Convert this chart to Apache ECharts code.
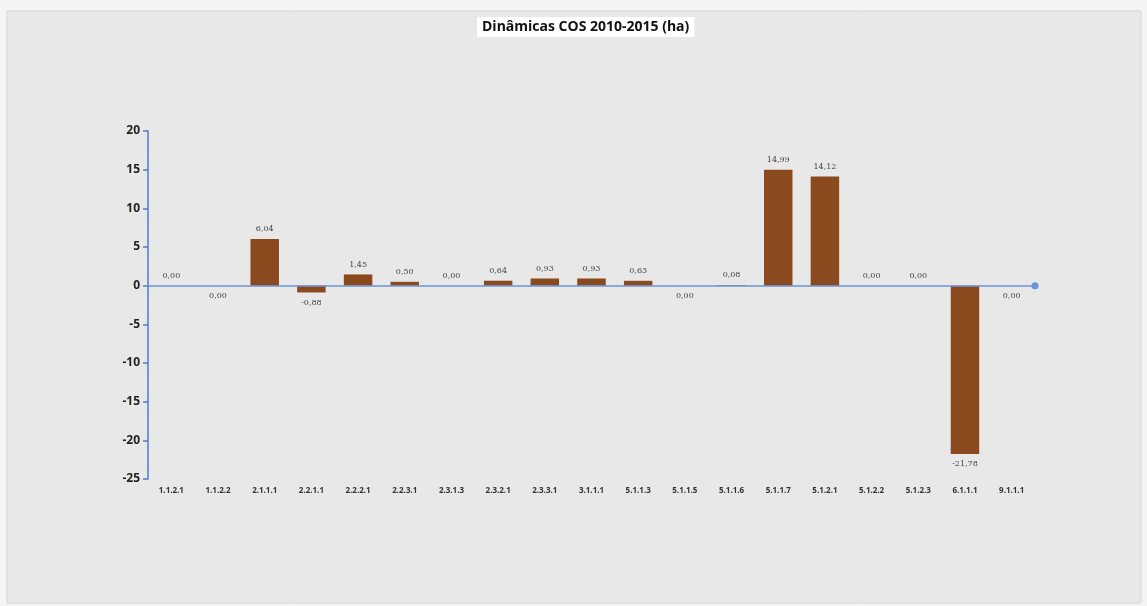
<!DOCTYPE html>
<html><head><meta charset="utf-8">
<script src="https://cdn.jsdelivr.net/npm/echarts@6/dist/echarts.min.js"></script>
<style>html,body{margin:0;padding:0;background:#f4f4f4;}#c{width:1147px;height:606px;}</style>
</head><body><div id="c"></div>
<script>
const categories = ['1.1.2.1','1.1.2.2','2.1.1.1','2.2.1.1','2.2.2.1','2.2.3.1','2.3.1.3','2.3.2.1','2.3.3.1','3.1.1.1','5.1.1.3','5.1.1.5','5.1.1.6','5.1.1.7','5.1.2.1','5.1.2.2','5.1.2.3','6.1.1.1','9.1.1.1'];
const values = [0, 0, 6.04, -0.88, 1.45, 0.50, 0, 0.64, 0.93, 0.93, 0.63, 0, 0.08, 14.99, 14.12, 0, 0, -21.78, 0];
const zeroLabelBelow = ['1.1.2.2','5.1.1.5','9.1.1.1'];
const yTicks = [-25, -20, -15, -10, -5, 0, 5, 10, 15, 20];

const chart = echarts.init(document.getElementById('c'));
const data = values.map((v, i) => {
  const below = v < 0 || (v === 0 && zeroLabelBelow.includes(categories[i]));
  return { value: v, label: { position: below ? 'bottom' : 'top' } };
});
chart.setOption({
  backgroundColor: '#f4f4f4',
  animation: false,
  graphic: [{ type: 'rect', z: -10, shape: { x: 7, y: 11, width: 1134, height: 592 }, style: { fill: '#e8e8e8', stroke: '#d6d6d6', lineWidth: 1 } }],
  title: {
    text: 'Dinâmicas COS 2010-2015 (ha)', left: 477, top: 17,
    backgroundColor: '#ffffff', padding: [3, 5],
    textStyle: { fontFamily: 'Open Sans', fontWeight: 'bold', fontSize: 14, color: '#111' }
  },
  grid: { left: 148, right: 112, top: 131, bottom: 127 },
  xAxis: [{
    type: 'category', data: categories, position: 'bottom',
    axisLine: { show: false, onZero: false }, axisTick: { show: false },
    axisLabel: { fontFamily: 'Open Sans', fontWeight: 'bold', fontSize: 8, color: '#333', margin: 8 }
  }, {
    type: 'category', data: categories, position: 'bottom', z: 10,
    axisLine: { show: true, onZero: true, lineStyle: { color: '#6a93d8', width: 1.5 }, symbol: ['none', 'circle'], symbolSize: [7, 7] },
    axisTick: { show: false }, axisLabel: { show: false }
  }],
  yAxis: {
    type: 'value', min: -25, max: 20, interval: 5,
    splitLine: { show: false },
    axisLine: { show: true, lineStyle: { color: '#4f7fd0', width: 1.5 } },
    axisTick: { show: true, length: 5, lineStyle: { color: '#4f7fd0', width: 1.5 } },
    axisLabel: { fontFamily: 'Open Sans', fontWeight: 'bold', fontSize: 12, color: '#222', margin: 8,
      formatter: v => yTicks.includes(v) ? String(v) : '' }
  },
  series: [{
    type: 'bar', xAxisIndex: 0, data: data, barWidth: '61%',
    itemStyle: { color: '#8a4a1e' },
    label: { show: true, fontFamily: 'DejaVu Serif', fontSize: 8, color: '#444', distance: 6,
      formatter: p => p.value.toFixed(2).replace('.', ',') }
  }]
});
</script></body></html>
